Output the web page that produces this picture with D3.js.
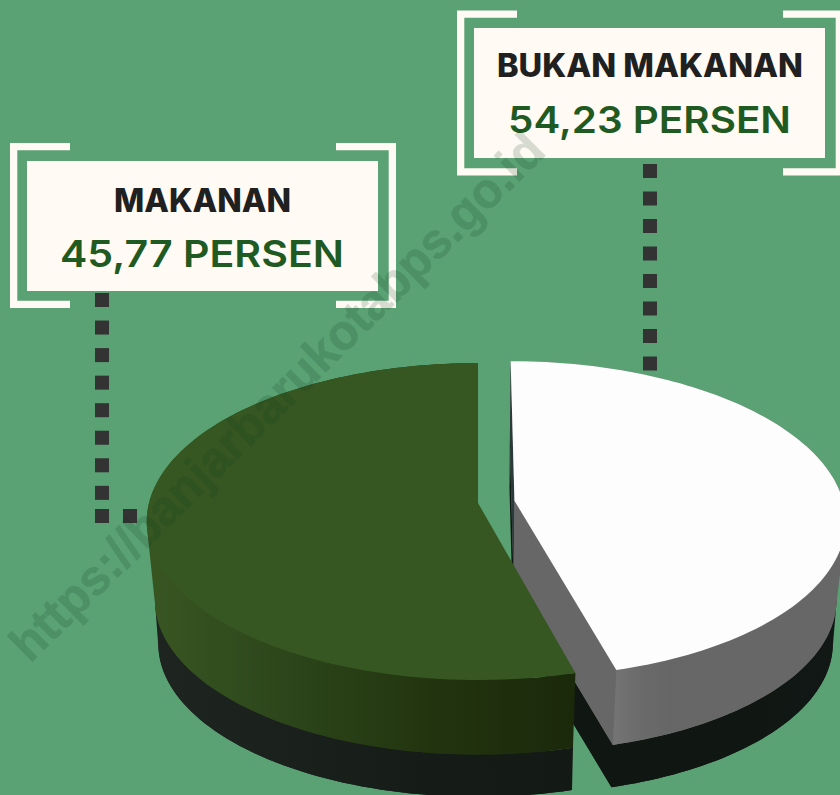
<!DOCTYPE html>
<html><head><meta charset="utf-8">
<script src="https://cdn.jsdelivr.net/npm/d3@7"></script>
<style>html,body{margin:0;padding:0;background:#5aa174;overflow:hidden}svg{display:block}</style>
</head><body><div id="c"></div>
<script>
// Data
const labelNames = ["MAKANAN", "BUKAN MAKANAN"];
const labelValues = ["45,77 PERSEN", "54,23 PERSEN"];
const sliceNames = ["white", "green"];
const sliceShares = [45.77, 54.23];   // as drawn in the picture
const sliceExplode = [0.112, 0];
const topColors = ["#fdfdfd", "#375722"];
const sideStops = [["#747474", "#6a6a6a", "#666666", "#676767"], ["#385622", "#2c451a", "#22340f", "#1b290b"]];
const baseStops = [["#101713", "#101713", "#101713", "#121815"], ["#1e2420", "#1a211d", "#151c18", "#131a16"]];

const W = 840, H = 795;
const svg = d3.select("#c").append("svg").attr("width", W).attr("height", H);
svg.append("rect").attr("width", W).attr("height", H).attr("fill", "#5aa174");
const defs = svg.append("defs");

// perspective disk projection
const pro = {ax: 478, ay: 503, A: 329, B: 156.3, p: 0.117};
const levels = [{s: 1, dy: 0}, {s: 0.975, dy: 79}, {s: 0.965, dy: 123}];
function proj(u, v, lvl) {
  const w = 1 - pro.p * v, L = levels[lvl];
  return [pro.ax + L.s * pro.A * u / w, pro.ay + L.s * pro.B * v / w + L.dy];
}
const pie = d3.pie().sort(null).value(d => d)(sliceShares);
const arcScale = d3.scaleLinear().domain([0, 1]);

function sliceGeom(i) {
  const a0 = pie[i].startAngle, a1 = pie[i].endAngle, mid = (a0 + a1) / 2;
  const ox = Math.sin(mid) * sliceExplode[i], oy = -Math.cos(mid) * sliceExplode[i];
  const n = 120;
  const pts = d3.range(n + 1).map(k => {
    const t = arcScale.range([a0, a1])(k / n);
    return [Math.sin(t) + ox, -Math.cos(t) + oy];
  });
  return {apex: [ox, oy], pts};
}
const pathOf = ps => "M" + ps.map(p => p[0].toFixed(2) + "," + p[1].toFixed(2)).join("L") + "Z";
function ribbon(g, la, lb) {
  const at = (p, l) => proj(p[0], p[1], l);
  let d = "";
  const add = (a, b) => {
    let q = [at(a, la), at(b, la), at(b, lb), at(a, lb)];
    if (d3.polygonArea(q) < 0) q = q.reverse();
    d += pathOf(q);
  };
  for (let k = 0; k < g.pts.length - 1; k++) add(g.pts[k], g.pts[k + 1]);
  return d;
}
function topPath(g, l) {
  return pathOf([proj(g.apex[0], g.apex[1], l), ...g.pts.map(p => proj(p[0], p[1], l))]);
}
function grad(id, stops, x0, x1) {
  const lg = defs.append("linearGradient").attr("id", id).attr("gradientUnits", "userSpaceOnUse")
    .attr("x1", x0).attr("x2", x1).attr("y1", 0).attr("y2", 0);
  stops.forEach((c, i) => lg.append("stop").attr("offset", i / (stops.length - 1)).attr("stop-color", c));
}
grad("side0", sideStops[0], 614, 700);
grad("side1", sideStops[1], 150, 576);
grad("base0", baseStops[0], 575, 835);
grad("base1", baseStops[1], 158, 575);

const pieG = svg.append("g");
sliceNames.forEach((name, i) => {
  const g = sliceGeom(i), G = pieG.append("g").attr("class", name);
  const first = g.pts[0], last = g.pts[g.pts.length - 1];
  const face = (p, la, lb) => pathOf([proj(g.apex[0], g.apex[1], la), proj(p[0], p[1], la), proj(p[0], p[1], lb), proj(g.apex[0], g.apex[1], lb)]);
  // lower dark band
  G.append("path").attr("d", topPath(g, 2)).attr("fill", `url(#base${i})`);
  G.append("path").attr("d", ribbon(g, 1, 2)).attr("fill", `url(#base${i})`);
  if (i === 0) G.append("path").attr("d", face(last, 1, 2)).attr("fill", "#101713");
  // coloured side band
  G.append("path").attr("d", topPath(g, 1)).attr("fill", `url(#side${i})`);
  G.append("path").attr("d", ribbon(g, 0, 1)).attr("fill", `url(#side${i})`);
  if (i === 0) {
    G.append("path").attr("d", face(first, 0, 1)).attr("fill", "#2b3b3a");
    G.append("path").attr("d", face(last, 0, 1)).attr("fill", "#676767");
  }
  // top
  G.append("path").attr("d", topPath(g, 0)).attr("fill", topColors[i]);
});

// Dotted leaders
const dotColor = "#333333", dotSize = 14;
const leftDots = d3.range(8).map(k => [95, 293 + k * 27.55]).concat([[95, 509], [123, 509]]);
const rightDots = d3.range(8).map(k => [643, 164 + k * 27.5]);
svg.append("g").selectAll("rect").data(leftDots.concat(rightDots)).join("rect")
  .attr("x", d => d[0]).attr("y", d => d[1]).attr("width", dotSize).attr("height", dotSize).attr("fill", dotColor);

// Label boxes
const cream = "#fffaf3";
const boxes = [
  {x: 27, y: 161, w: 351, h: 130, ox: 10, oy: 143, ow: 386, oh: 165, name: labelNames[0], val: labelValues[0],
   nx: 114, nw: 177, nb: 212, vx: 60, vw: 284, vb: 267},
  {x: 474, y: 28, w: 351, h: 130, ox: 457, oy: 10.5, ow: 386, oh: 165, name: labelNames[1], val: labelValues[1],
   nx: 497, nw: 306, nb: 77, vx: 508, vw: 283, vb: 133}
];
const arm = 60, th = 7.3;
boxes.forEach(b => {
  const G = svg.append("g");
  const x0 = b.ox, y0 = b.oy, x1 = b.ox + b.ow, y1 = b.oy + b.oh;
  const br = [
    [[x0, y0], [x0 + arm, y0], [x0 + arm, y0 + th], [x0 + th, y0 + th], [x0 + th, y1 - th], [x0 + arm, y1 - th], [x0 + arm, y1], [x0, y1]],
    [[x1, y0], [x1 - arm, y0], [x1 - arm, y0 + th], [x1 - th, y0 + th], [x1 - th, y1 - th], [x1 - arm, y1 - th], [x1 - arm, y1], [x1, y1]]
  ];
  G.selectAll("path").data(br).join("path").attr("d", pathOf).attr("fill", cream);
  G.append("rect").attr("x", b.x).attr("y", b.y).attr("width", b.w).attr("height", b.h).attr("fill", cream);
  G.append("text").text(b.name).attr("x", b.nx).attr("y", b.nb)
    .attr("font-family", "Inter").attr("font-weight", 800).attr("font-size", 32)
    .attr("textLength", b.nw).attr("lengthAdjust", "spacingAndGlyphs").attr("fill", "#202020");
  G.append("text").text(b.val).attr("x", b.vx).attr("y", b.vb)
    .attr("font-family", "Inter").attr("font-weight", 600).attr("font-size", 37.5)
    .attr("textLength", b.vw).attr("lengthAdjust", "spacingAndGlyphs").attr("fill", "#1f5a22");
});

// Watermark
svg.append("text").text("https://banjarbarukotabps.go.id")
  .attr("transform", "translate(30,664) rotate(-44.6)")
  .attr("font-family", "Liberation Sans").attr("font-weight", 700).attr("font-size", 50)
  .attr("textLength", 727).attr("lengthAdjust", "spacingAndGlyphs")
  .attr("fill", "#0b3a1c").attr("stroke", "#0b3a1c").attr("stroke-width", 0.6).attr("opacity", 0.16);
</script></body></html>
